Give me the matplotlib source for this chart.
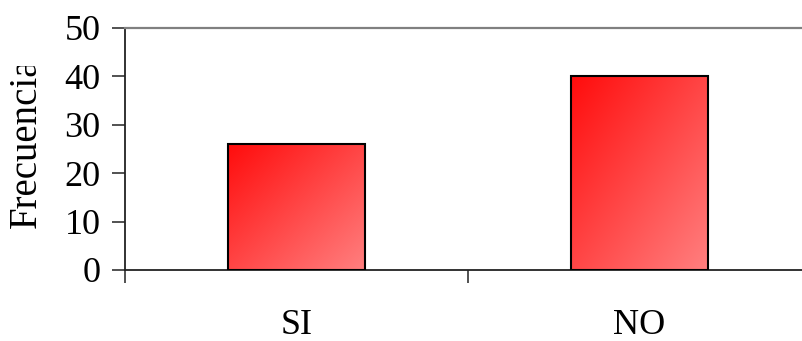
import numpy as np
import matplotlib
matplotlib.use("Agg")
import matplotlib.pyplot as plt
from matplotlib.transforms import Bbox, TransformedBbox, IdentityTransform

categories = ["SI", "NO"]
frecuencia = [26, 40]
y_ticks = [0, 10, 20, 30, 40, 50]

plt.rcParams["font.family"] = ["Liberation Serif", "DejaVu Serif"]

W, H = 802, 341
fig = plt.figure(figsize=(W / 100, H / 100), dpi=100)
# plot area runs past the right edge of the canvas
ax = fig.add_axes([125 / W, 1 - 270 / H, (811 - 125) / W, (270 - 28) / H])

x = np.arange(len(categories))
bars = ax.bar(x, frecuencia, width=0.4, facecolor="none", edgecolor="black",
              linewidth=1.5, zorder=3)

# diagonal red gradient inside each bar (top-left bright, bottom-right light)
n = 200
u = np.linspace(0, 1, n)
uu, vv = np.meshgrid(u, u)
t = (uu + vv) / 2.0
c0 = np.array([255, 12, 12]) / 255.0
c1 = np.array([255, 128, 128]) / 255.0
grad = c0[None, None, :] * (1 - t[..., None]) + c1[None, None, :] * t[..., None]
for b in bars:
    x0, y0 = b.get_x(), b.get_y()
    w, h = b.get_width(), b.get_height()
    im = ax.imshow(grad, extent=[x0, x0 + w, y0, y0 + h], origin="upper",
                   aspect="auto", zorder=2, interpolation="bilinear")
    im.set_clip_path(b)

ax.set_xlim(-0.5, 1.5)
ax.set_ylim(0, 50)

ax.set_yticks(y_ticks)
ax.set_yticklabels([str(v) for v in y_ticks])
ax.tick_params(axis="y", direction="out", length=9.5, width=1.2, color="#333333",
               labelsize=26, pad=8)

ax.set_xticks([-0.5, 0.5, 1.5])
ax.set_xticklabels([])
ax.set_xticks(x, minor=True)
ax.set_xticklabels(categories, minor=True)
ax.tick_params(axis="x", which="major", direction="out", length=9, width=1.2,
               color="#333333")
ax.tick_params(axis="x", which="minor", length=0, labelsize=26, pad=28)

for s in ("left", "bottom"):
    ax.spines[s].set_color("#222222")
    ax.spines[s].set_linewidth(1.3)
ax.spines["right"].set_visible(False)
ax.spines["top"].set_color("#808080")
ax.spines["top"].set_linewidth(1.6)

# axis title, its last letter trimmed by the frame edge
ylab = fig.text(26 / W, 1 - 228 / H, "Frecuencia", rotation=90, ha="center",
                va="bottom", fontsize=28)
ylab.set_clip_box(TransformedBbox(Bbox([[0, 0], [W, H - 66]]), IdentityTransform()))
ylab.set_clip_on(True)

fig.savefig("out.png", dpi=100)
